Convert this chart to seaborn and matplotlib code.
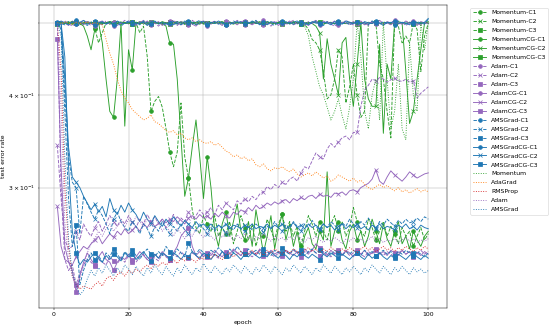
import matplotlib
matplotlib.use("Agg")
import matplotlib.pyplot as plt
import seaborn as sns

epochs = list(range(1, 101))

Momentum_C1 = [0.500,0.499,0.501,0.500,0.498,0.501,0.500,0.499,0.500,0.501,
 0.492,0.470,0.485,0.500,0.499,0.501,0.500,0.498,0.500,0.499,
 0.501,0.500,0.485,0.495,0.450,0.380,0.392,0.398,0.385,0.360,
 0.335,0.320,0.335,0.390,0.330,0.309,0.280,0.265,0.260,0.275,
 0.268,0.262,0.275,0.258,0.265,0.260,0.270,0.252,0.262,0.275,
 0.265,0.255,0.268,0.250,0.262,0.258,0.272,0.263,0.255,0.268,
 0.276,0.262,0.270,0.258,0.266,0.250,0.262,0.275,0.268,0.258,
 0.270,0.262,0.255,0.268,0.275,0.262,0.270,0.258,0.265,0.282,
 0.270,0.262,0.258,0.272,0.265,0.255,0.262,0.270,0.258,0.266,
 0.260,0.252,0.265,0.258,0.262,0.250,0.258,0.265,0.255,0.260]
Momentum_C2 = [0.500,0.499,0.501,0.500,0.499,0.501,0.500,0.498,0.500,0.501,
 0.500,0.499,0.501,0.500,0.498,0.500,0.501,0.499,0.500,0.501,
 0.499,0.500,0.501,0.499,0.500,0.498,0.501,0.500,0.499,0.500,
 0.501,0.499,0.500,0.501,0.498,0.500,0.499,0.501,0.500,0.499,
 0.500,0.501,0.499,0.500,0.498,0.501,0.500,0.499,0.501,0.500,
 0.499,0.500,0.501,0.499,0.500,0.498,0.501,0.500,0.499,0.500,
 0.501,0.499,0.500,0.501,0.499,0.500,0.498,0.490,0.475,0.470,
 0.460,0.430,0.395,0.400,0.420,0.460,0.450,0.390,0.410,0.440,
 0.400,0.373,0.380,0.500,0.499,0.500,0.440,0.420,0.380,0.350,
 0.500,0.495,0.470,0.480,0.470,0.500,0.490,0.430,0.480,0.500]
Momentum_C3 = [0.500,0.498,0.501,0.499,0.502,0.500,0.497,0.501,0.500,0.499,
 0.502,0.500,0.498,0.501,0.499,0.500,0.502,0.498,0.500,0.501,
 0.499,0.501,0.500,0.498,0.502,0.499,0.500,0.501,0.498,0.500,
 0.501,0.499,0.502,0.500,0.498,0.501,0.499,0.500,0.502,0.498,
 0.500,0.501,0.499,0.502,0.500,0.498,0.501,0.500,0.499,0.501,
 0.498,0.500,0.502,0.499,0.501,0.500,0.498,0.501,0.499,0.502,
 0.500,0.499,0.501,0.500,0.498,0.502,0.500,0.499,0.501,0.500,
 0.502,0.498,0.500,0.501,0.499,0.500,0.502,0.498,0.500,0.501,
 0.499,0.501,0.500,0.498,0.502,0.500,0.499,0.501,0.500,0.498,
 0.501,0.500,0.499,0.502,0.500,0.498,0.501,0.499,0.500,0.501]
MomentumCG_C1 = [0.500,0.501,0.499,0.500,0.502,0.500,0.499,0.495,0.480,0.460,
 0.490,0.500,0.470,0.420,0.380,0.373,0.420,0.500,0.363,0.460,
 0.432,0.500,0.499,0.501,0.500,0.498,0.501,0.500,0.499,0.495,
 0.470,0.468,0.420,0.350,0.292,0.309,0.340,0.370,0.330,0.290,
 0.330,0.300,0.262,0.250,0.268,0.278,0.258,0.270,0.285,0.262,
 0.255,0.270,0.250,0.280,0.262,0.245,0.258,0.275,0.248,0.265,
 0.276,0.255,0.268,0.250,0.262,0.245,0.258,0.265,0.252,0.248,
 0.262,0.255,0.315,0.250,0.262,0.270,0.255,0.248,0.262,0.268,
 0.255,0.262,0.250,0.258,0.272,0.262,0.252,0.268,0.256,0.250,
 0.262,0.270,0.252,0.258,0.248,0.262,0.255,0.250,0.258,0.262]
MomentumCG_C2 = [0.499,0.500,0.501,0.499,0.500,0.502,0.500,0.499,0.501,0.500,
 0.500,0.501,0.499,0.500,0.502,0.500,0.499,0.500,0.501,0.499,
 0.501,0.499,0.500,0.502,0.500,0.499,0.501,0.500,0.498,0.500,
 0.500,0.502,0.499,0.500,0.501,0.500,0.499,0.501,0.500,0.502,
 0.499,0.500,0.501,0.499,0.500,0.502,0.500,0.499,0.501,0.500,
 0.500,0.499,0.501,0.500,0.502,0.499,0.500,0.501,0.499,0.500,
 0.502,0.500,0.499,0.501,0.500,0.499,0.500,0.501,0.499,0.495,
 0.485,0.420,0.476,0.440,0.420,0.400,0.470,0.478,0.420,0.386,
 0.440,0.500,0.420,0.395,0.386,0.386,0.468,0.355,0.440,0.420,
 0.500,0.499,0.500,0.430,0.366,0.380,0.420,0.460,0.500,0.502]
MomentumCG_C3 = [0.499,0.501,0.500,0.502,0.498,0.500,0.501,0.499,0.502,0.500,
 0.498,0.501,0.500,0.499,0.502,0.500,0.498,0.501,0.499,0.500,
 0.501,0.499,0.502,0.500,0.498,0.501,0.500,0.499,0.502,0.500,
 0.499,0.500,0.498,0.502,0.500,0.499,0.501,0.500,0.498,0.502,
 0.500,0.499,0.501,0.500,0.502,0.499,0.500,0.498,0.501,0.500,
 0.502,0.500,0.499,0.501,0.498,0.500,0.502,0.500,0.499,0.501,
 0.499,0.501,0.500,0.502,0.500,0.499,0.498,0.501,0.500,0.502,
 0.500,0.498,0.501,0.500,0.499,0.502,0.500,0.499,0.501,0.500,
 0.501,0.500,0.498,0.501,0.500,0.502,0.499,0.500,0.501,0.499,
 0.500,0.502,0.500,0.499,0.501,0.500,0.498,0.501,0.500,0.500]

Adam_C1 = [0.500,0.497,0.503,0.499,0.495,0.501,0.498,0.504,0.500,0.496,
 0.502,0.499,0.497,0.503,0.500,0.495,0.501,0.499,0.504,0.498,
 0.500,0.496,0.502,0.499,0.503,0.497,0.500,0.495,0.501,0.498,
 0.503,0.500,0.496,0.502,0.499,0.497,0.504,0.500,0.498,0.501,
 0.495,0.500,0.503,0.498,0.501,0.497,0.502,0.499,0.504,0.500,
 0.496,0.501,0.498,0.503,0.500,0.497,0.502,0.495,0.500,0.503,
 0.499,0.497,0.501,0.504,0.498,0.500,0.496,0.502,0.499,0.501,
 0.497,0.503,0.500,0.498,0.495,0.501,0.499,0.504,0.500,0.497,
 0.502,0.498,0.501,0.496,0.503,0.500,0.499,0.497,0.502,0.500,
 0.504,0.498,0.501,0.496,0.500,0.503,0.499,0.497,0.501,0.500]
Adam_C2 = [0.342,0.290,0.255,0.248,0.250,0.262,0.255,0.268,0.262,0.258,
 0.265,0.270,0.262,0.268,0.275,0.270,0.266,0.272,0.268,0.275,
 0.270,0.265,0.272,0.268,0.276,0.270,0.274,0.268,0.272,0.265,
 0.270,0.276,0.268,0.273,0.270,0.278,0.272,0.275,0.280,0.276,
 0.278,0.282,0.276,0.284,0.280,0.286,0.283,0.280,0.288,0.285,
 0.290,0.287,0.292,0.289,0.294,0.296,0.301,0.298,0.303,0.300,
 0.305,0.303,0.308,0.310,0.306,0.314,0.320,0.318,0.326,0.334,
 0.330,0.328,0.338,0.344,0.340,0.346,0.350,0.352,0.348,0.356,
 0.356,0.386,0.406,0.412,0.420,0.418,0.422,0.420,0.416,0.419,
 0.421,0.418,0.417,0.420,0.416,0.418,0.396,0.402,0.406,0.410]
Adam_C3 = [0.500,0.300,0.240,0.232,0.236,0.222,0.230,0.236,0.240,0.238,
 0.235,0.240,0.238,0.236,0.242,0.239,0.237,0.241,0.238,0.243,
 0.240,0.238,0.242,0.244,0.240,0.243,0.241,0.239,0.244,0.242,
 0.240,0.244,0.242,0.246,0.243,0.241,0.245,0.243,0.240,0.244,
 0.242,0.245,0.243,0.241,0.246,0.244,0.242,0.247,0.245,0.243,
 0.246,0.244,0.242,0.245,0.247,0.243,0.246,0.244,0.242,0.245,
 0.243,0.246,0.244,0.247,0.245,0.242,0.246,0.244,0.247,0.245,
 0.243,0.246,0.244,0.242,0.245,0.247,0.244,0.246,0.243,0.245,
 0.247,0.244,0.242,0.246,0.244,0.247,0.245,0.243,0.246,0.244,
 0.242,0.245,0.247,0.244,0.246,0.243,0.245,0.247,0.244,0.246]
AdamCG_C1 = [0.498,0.502,0.500,0.496,0.503,0.499,0.501,0.497,0.502,0.500,
 0.495,0.501,0.503,0.498,0.500,0.502,0.496,0.500,0.499,0.503,
 0.501,0.498,0.500,0.504,0.497,0.501,0.499,0.502,0.496,0.500,
 0.499,0.503,0.501,0.497,0.500,0.502,0.498,0.495,0.501,0.503,
 0.500,0.498,0.502,0.500,0.496,0.503,0.499,0.501,0.497,0.502,
 0.503,0.500,0.497,0.501,0.499,0.504,0.498,0.500,0.502,0.496,
 0.501,0.499,0.503,0.497,0.500,0.502,0.500,0.496,0.501,0.504,
 0.498,0.500,0.502,0.499,0.503,0.496,0.501,0.500,0.498,0.502,
 0.499,0.503,0.497,0.500,0.501,0.498,0.504,0.499,0.500,0.497,
 0.502,0.500,0.498,0.503,0.499,0.501,0.496,0.502,0.500,0.499]
AdamCG_C2 = [0.283,0.250,0.240,0.238,0.236,0.242,0.246,0.250,0.248,0.252,
 0.255,0.258,0.252,0.256,0.260,0.257,0.262,0.259,0.264,0.260,
 0.263,0.266,0.262,0.268,0.265,0.270,0.266,0.268,0.272,0.269,
 0.272,0.270,0.274,0.271,0.268,0.273,0.275,0.272,0.276,0.273,
 0.275,0.272,0.277,0.274,0.278,0.275,0.273,0.278,0.276,0.280,
 0.278,0.282,0.279,0.284,0.281,0.283,0.286,0.284,0.287,0.285,
 0.288,0.289,0.286,0.290,0.288,0.291,0.289,0.292,0.293,0.290,
 0.294,0.292,0.293,0.291,0.295,0.294,0.296,0.293,0.297,0.298,
 0.296,0.300,0.302,0.304,0.308,0.317,0.306,0.303,0.310,0.316,
 0.312,0.309,0.306,0.310,0.315,0.312,0.309,0.311,0.313,0.314]
AdamCG_C3 = [0.475,0.320,0.250,0.238,0.232,0.217,0.228,0.238,0.245,0.240,
 0.236,0.242,0.246,0.240,0.238,0.232,0.238,0.242,0.240,0.244,
 0.238,0.242,0.246,0.243,0.240,0.238,0.244,0.241,0.246,0.243,
 0.240,0.245,0.250,0.258,0.262,0.265,0.250,0.243,0.246,0.242,
 0.245,0.243,0.247,0.244,0.242,0.246,0.244,0.248,0.245,0.243,
 0.247,0.244,0.246,0.243,0.248,0.245,0.243,0.247,0.244,0.246,
 0.244,0.247,0.245,0.243,0.246,0.244,0.248,0.245,0.247,0.252,
 0.249,0.245,0.243,0.247,0.244,0.246,0.243,0.247,0.245,0.242,
 0.246,0.244,0.247,0.243,0.245,0.248,0.244,0.246,0.243,0.247,
 0.245,0.243,0.247,0.244,0.246,0.242,0.245,0.243,0.246,0.244]

AMSGrad_C1 = [0.501,0.499,0.497,0.502,0.500,0.505,0.498,0.500,0.496,0.501,
 0.503,0.497,0.500,0.499,0.502,0.498,0.501,0.495,0.500,0.503,
 0.499,0.501,0.497,0.503,0.500,0.498,0.502,0.499,0.501,0.496,
 0.500,0.502,0.499,0.497,0.503,0.500,0.498,0.501,0.504,0.499,
 0.497,0.500,0.502,0.498,0.501,0.499,0.496,0.503,0.500,0.502,
 0.498,0.501,0.500,0.504,0.497,0.500,0.502,0.499,0.496,0.501,
 0.503,0.499,0.501,0.498,0.500,0.502,0.497,0.501,0.499,0.503,
 0.500,0.496,0.502,0.500,0.498,0.503,0.499,0.501,0.497,0.500,
 0.502,0.499,0.500,0.497,0.503,0.500,0.498,0.502,0.499,0.501,
 0.497,0.503,0.500,0.498,0.501,0.499,0.502,0.500,0.498,0.506]
AMSGrad_C2 = [0.500,0.490,0.400,0.330,0.305,0.300,0.260,0.292,0.285,0.278,
 0.272,0.280,0.275,0.268,0.260,0.272,0.278,0.270,0.265,0.262,
 0.270,0.266,0.260,0.268,0.264,0.258,0.266,0.262,0.270,0.264,
 0.260,0.266,0.262,0.268,0.263,0.260,0.265,0.262,0.268,0.264,
 0.260,0.265,0.262,0.267,0.264,0.260,0.266,0.263,0.268,0.264,
 0.262,0.266,0.263,0.268,0.265,0.261,0.266,0.264,0.270,0.265,
 0.262,0.267,0.264,0.270,0.266,0.262,0.268,0.265,0.271,0.266,
 0.263,0.268,0.265,0.270,0.267,0.263,0.269,0.266,0.272,0.268,
 0.265,0.270,0.267,0.273,0.268,0.264,0.270,0.267,0.272,0.269,
 0.266,0.271,0.268,0.272,0.269,0.270,0.273,0.270,0.274,0.272]
AMSGrad_C3 = [0.500,0.495,0.380,0.290,0.250,0.267,0.222,0.232,0.240,0.245,
 0.240,0.243,0.238,0.245,0.242,0.248,0.244,0.240,0.246,0.243,
 0.247,0.243,0.240,0.245,0.248,0.244,0.242,0.246,0.243,0.250,
 0.246,0.243,0.248,0.245,0.242,0.253,0.246,0.244,0.248,0.245,
 0.243,0.247,0.245,0.249,0.246,0.243,0.248,0.245,0.250,0.246,
 0.244,0.248,0.245,0.247,0.244,0.248,0.246,0.243,0.247,0.245,
 0.249,0.246,0.244,0.248,0.245,0.247,0.243,0.246,0.248,0.245,
 0.247,0.244,0.246,0.243,0.247,0.245,0.243,0.246,0.244,0.247,
 0.245,0.243,0.247,0.244,0.246,0.243,0.245,0.247,0.244,0.246,
 0.243,0.246,0.244,0.247,0.245,0.243,0.246,0.244,0.242,0.245]
AMSGradCG_C1 = [0.499,0.503,0.500,0.497,0.502,0.499,0.501,0.504,0.498,0.500,
 0.496,0.500,0.502,0.498,0.501,0.497,0.503,0.500,0.499,0.501,
 0.502,0.498,0.500,0.501,0.496,0.500,0.503,0.498,0.501,0.499,
 0.500,0.497,0.502,0.500,0.499,0.503,0.501,0.497,0.500,0.502,
 0.498,0.501,0.499,0.503,0.500,0.497,0.501,0.499,0.502,0.500,
 0.501,0.499,0.503,0.500,0.498,0.501,0.497,0.502,0.500,0.499,
 0.500,0.502,0.498,0.501,0.503,0.499,0.500,0.497,0.502,0.500,
 0.499,0.501,0.500,0.497,0.502,0.500,0.498,0.503,0.501,0.499,
 0.501,0.498,0.502,0.500,0.499,0.503,0.500,0.496,0.501,0.500,
 0.503,0.499,0.501,0.500,0.497,0.502,0.500,0.499,0.501,0.507]
AMSGradCG_C2 = [0.500,0.498,0.420,0.340,0.310,0.305,0.300,0.292,0.286,0.280,
 0.285,0.278,0.283,0.274,0.290,0.280,0.276,0.284,0.278,0.286,
 0.280,0.276,0.270,0.278,0.272,0.268,0.275,0.270,0.266,0.272,
 0.268,0.274,0.270,0.266,0.271,0.268,0.265,0.270,0.266,0.268,
 0.265,0.268,0.264,0.267,0.265,0.268,0.264,0.267,0.266,0.264,
 0.267,0.265,0.268,0.264,0.266,0.265,0.268,0.264,0.267,0.265,
 0.268,0.264,0.266,0.269,0.265,0.267,0.264,0.268,0.265,0.267,
 0.264,0.268,0.265,0.267,0.263,0.266,0.268,0.264,0.267,0.265,
 0.268,0.264,0.266,0.263,0.267,0.265,0.268,0.264,0.266,0.265,
 0.263,0.267,0.265,0.268,0.264,0.266,0.263,0.267,0.265,0.264]
AMSGradCG_C3 = [0.500,0.500,0.450,0.320,0.262,0.245,0.236,0.240,0.238,0.242,
 0.245,0.241,0.238,0.243,0.240,0.244,0.242,0.239,0.245,0.242,
 0.244,0.240,0.243,0.246,0.242,0.239,0.244,0.241,0.245,0.243,
 0.241,0.245,0.243,0.240,0.244,0.242,0.246,0.243,0.241,0.245,
 0.243,0.240,0.244,0.242,0.246,0.243,0.241,0.245,0.243,0.240,
 0.244,0.242,0.245,0.243,0.241,0.244,0.242,0.246,0.243,0.241,
 0.245,0.243,0.240,0.244,0.242,0.245,0.243,0.241,0.244,0.242,
 0.240,0.244,0.242,0.245,0.243,0.241,0.244,0.242,0.240,0.243,
 0.245,0.242,0.240,0.244,0.241,0.243,0.245,0.242,0.240,0.243,
 0.241,0.244,0.242,0.240,0.243,0.245,0.242,0.240,0.243,0.241]

Momentum = [0.500,0.501,0.499,0.500,0.502,0.499,0.500,0.501,0.499,0.500,
 0.501,0.500,0.498,0.500,0.501,0.499,0.500,0.502,0.500,0.499,
 0.500,0.501,0.499,0.500,0.498,0.501,0.500,0.499,0.501,0.500,
 0.499,0.500,0.502,0.500,0.499,0.501,0.500,0.498,0.500,0.501,
 0.500,0.499,0.501,0.500,0.502,0.499,0.500,0.501,0.499,0.500,
 0.501,0.499,0.500,0.502,0.500,0.499,0.501,0.500,0.498,0.500,
 0.501,0.500,0.499,0.500,0.501,0.499,0.495,0.480,0.450,0.430,
 0.410,0.400,0.385,0.370,0.380,0.395,0.375,0.360,0.385,0.420,
 0.500,0.450,0.380,0.360,0.400,0.420,0.370,0.500,0.420,0.360,
 0.380,0.440,0.360,0.348,0.470,0.400,0.380,0.500,0.460,0.500]
AdaGrad = [0.500,0.499,0.501,0.500,0.498,0.501,0.499,0.500,0.501,0.499,
 0.500,0.498,0.497,0.475,0.455,0.440,0.420,0.405,0.396,0.390,
 0.382,0.378,0.374,0.370,0.372,0.376,0.368,0.366,0.362,0.358,
 0.356,0.358,0.353,0.355,0.350,0.348,0.350,0.346,0.348,0.345,
 0.344,0.346,0.342,0.344,0.340,0.336,0.334,0.330,0.332,0.328,
 0.330,0.326,0.328,0.322,0.320,0.323,0.318,0.316,0.319,0.318,
 0.320,0.317,0.315,0.318,0.313,0.310,0.312,0.314,0.311,0.315,
 0.312,0.309,0.311,0.306,0.308,0.312,0.310,0.308,0.306,0.309,
 0.305,0.307,0.303,0.300,0.298,0.301,0.303,0.300,0.302,0.299,
 0.297,0.300,0.296,0.298,0.295,0.297,0.299,0.296,0.298,0.296]
RMSProp = [0.500,0.430,0.300,0.250,0.228,0.222,0.219,0.221,0.220,0.219,
 0.222,0.224,0.221,0.226,0.228,0.225,0.229,0.231,0.228,0.232,
 0.230,0.233,0.231,0.234,0.236,0.233,0.237,0.235,0.238,0.236,
 0.238,0.240,0.237,0.241,0.239,0.242,0.240,0.238,0.242,0.240,
 0.243,0.241,0.244,0.242,0.240,0.243,0.245,0.242,0.244,0.246,
 0.243,0.245,0.247,0.244,0.246,0.243,0.247,0.245,0.248,0.246,
 0.244,0.247,0.245,0.248,0.246,0.244,0.247,0.249,0.246,0.248,
 0.245,0.248,0.246,0.249,0.247,0.245,0.248,0.246,0.249,0.247,
 0.245,0.248,0.250,0.247,0.249,0.246,0.248,0.250,0.247,0.249,
 0.246,0.249,0.247,0.250,0.248,0.246,0.249,0.247,0.250,0.248]
Adam = [0.500,0.380,0.270,0.240,0.228,0.220,0.226,0.235,0.245,0.252,
 0.256,0.262,0.258,0.264,0.268,0.262,0.266,0.270,0.265,0.272,
 0.268,0.274,0.270,0.266,0.272,0.268,0.264,0.270,0.262,0.266,
 0.262,0.258,0.264,0.260,0.256,0.262,0.258,0.264,0.260,0.257,
 0.261,0.258,0.255,0.260,0.257,0.262,0.258,0.255,0.259,0.256,
 0.260,0.257,0.254,0.258,0.256,0.260,0.257,0.254,0.258,0.255,
 0.257,0.254,0.258,0.255,0.259,0.256,0.253,0.257,0.255,0.258,
 0.255,0.253,0.256,0.254,0.257,0.255,0.252,0.256,0.254,0.257,
 0.254,0.256,0.253,0.255,0.258,0.254,0.256,0.253,0.255,0.254,
 0.256,0.253,0.255,0.257,0.254,0.256,0.253,0.255,0.254,0.256]
AMSGrad = [0.500,0.480,0.330,0.255,0.230,0.222,0.215,0.218,0.226,0.232,
 0.228,0.234,0.230,0.236,0.232,0.228,0.234,0.230,0.236,0.233,
 0.229,0.235,0.231,0.228,0.234,0.230,0.236,0.232,0.229,0.235,
 0.231,0.228,0.234,0.230,0.236,0.232,0.229,0.234,0.231,0.237,
 0.233,0.230,0.235,0.232,0.229,0.234,0.231,0.236,0.233,0.230,
 0.235,0.232,0.229,0.234,0.231,0.236,0.233,0.230,0.235,0.232,
 0.229,0.234,0.231,0.236,0.233,0.230,0.235,0.232,0.229,0.234,
 0.231,0.236,0.233,0.230,0.235,0.232,0.229,0.234,0.231,0.235,
 0.232,0.229,0.234,0.231,0.236,0.233,0.230,0.235,0.232,0.229,
 0.234,0.231,0.235,0.232,0.229,0.234,0.231,0.233,0.230,0.232]

GREEN, PURPLE, BLUE = "#2ca02c", "#9467bd", "#1f77b4"
series = [
    ("Momentum-C1", Momentum_C1, GREEN, "--", "o"),
    ("Momentum-C2", Momentum_C2, GREEN, "--", "x"),
    ("Momentum-C3", Momentum_C3, GREEN, "--", "s"),
    ("MomentumCG-C1", MomentumCG_C1, GREEN, "-", "o"),
    ("MomentumCG-C2", MomentumCG_C2, GREEN, "-", "x"),
    ("MomentumCG-C3", MomentumCG_C3, GREEN, "-", "s"),
    ("Adam-C1", Adam_C1, PURPLE, "--", "o"),
    ("Adam-C2", Adam_C2, PURPLE, "--", "x"),
    ("Adam-C3", Adam_C3, PURPLE, "--", "s"),
    ("AdamCG-C1", AdamCG_C1, PURPLE, "-", "o"),
    ("AdamCG-C2", AdamCG_C2, PURPLE, "-", "x"),
    ("AdamCG-C3", AdamCG_C3, PURPLE, "-", "s"),
    ("AMSGrad-C1", AMSGrad_C1, BLUE, "--", "o"),
    ("AMSGrad-C2", AMSGrad_C2, BLUE, "--", "x"),
    ("AMSGrad-C3", AMSGrad_C3, BLUE, "--", "s"),
    ("AMSGradCG-C1", AMSGradCG_C1, BLUE, "-", "o"),
    ("AMSGradCG-C2", AMSGradCG_C2, BLUE, "-", "x"),
    ("AMSGradCG-C3", AMSGradCG_C3, BLUE, "-", "s"),
    ("Momentum", Momentum, GREEN, ":", None),
    ("AdaGrad", AdaGrad, "#ff7f0e", ":", None),
    ("RMSProp", RMSProp, "#d62728", ":", None),
    ("Adam", Adam, PURPLE, ":", None),
    ("AMSGrad", AMSGrad, BLUE, ":", None),
]

fig = plt.figure(figsize=(12.5, 7.5), dpi=44)
ax = fig.add_axes([0.0705, 0.0667, 0.742, 0.919])
for label, vals, color, ls, marker in series:
    kw = dict(x=epochs, y=vals, ax=ax, color=color, linestyle=ls,
              label=label, linewidth=1.5)
    if marker:
        kw.update(marker=marker, markevery=5, markersize=6,
                  markeredgecolor=color, markeredgewidth=1.2)
    sns.lineplot(**kw)

ax.set_yscale("log")
ax.set_ylim(0.2065, 0.529)
ax.set_xlim(-3.95, 104.95)
ax.grid(True, which="both")
ax.set_xlabel("epoch")
ax.set_ylabel("test error rate")
ax.legend(bbox_to_anchor=(1.05, 1), loc="upper left",
          labelspacing=0.6, handlelength=2.2)
fig.savefig("out.png", dpi=44)
